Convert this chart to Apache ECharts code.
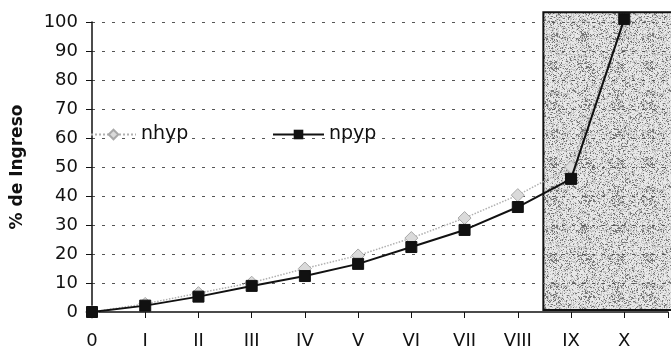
<!DOCTYPE html>
<html>
<head>
<meta charset="utf-8">
<script src="https://cdn.jsdelivr.net/npm/echarts@6/dist/echarts.min.js"></script>
<style>html,body{margin:0;padding:0;background:#fff}#c{width:671px;height:350px}</style>
</head>
<body>
<div id="c"></div>
<script>
// ---- data ----
const categories = ['0','I','II','III','IV','V','VI','VII','VIII','IX','X'];
const nhyp = [0, 2.8, 6.5, 10.1, 15, 19.5, 25.5, 32.4, 40.3, 50, 100.5];
const npyp = [0, 2.2, 5.3, 9.0, 12.4, 16.6, 22.4, 28.3, 36.2, 45.9, 101];
const yTicks = [0,10,20,30,40,50,60,70,80,90,100];
const shadeRange = {x0: 8.48, x1: 10.85, y0: 0, y1: 103.4};

const font = 'DejaVu Sans';
const chart = echarts.init(document.getElementById('c'), null, {renderer: 'canvas'});

function toPairs(arr){ return arr.map((v,i)=>[i, v]); }

// speckled texture for the shaded region (deterministic)
function makeTexture(){
  const s = 96, cv = document.createElement('canvas');
  cv.width = s; cv.height = s;
  const ctx = cv.getContext('2d');
  const img = ctx.createImageData(s, s);
  let h = 98765;
  for (let y=0; y<s; y++) for (let x=0; x<s; x++) {
    h = (h * 1103515245 + 12345) & 0x7fffffff;
    const r = (h >> 8) % 256;
    const dx = ((x + 8) % 32) - 16, dy = ((y + 6) % 29) - 14;
    const blob = (dx*dx/60 + dy*dy/30) < 1 ? 45 : 0;
    let g = r < 35 + blob ? 120 : (r < 110 + blob ? 195 : 232);
    const i = (y*s + x)*4;
    img.data[i]=g; img.data[i+1]=g; img.data[i+2]=g; img.data[i+3]=255;
  }
  ctx.putImageData(img,0,0);
  return cv;
}

const option = {
  animation: false,
  backgroundColor: '#fff',
  grid: {left: 92, right: 0, top: 22, bottom: 38, containLabel: false},
  legend: [
    {data: ['nhyp'], left: 90, top: 125, padding: 0, itemWidth: 45, itemHeight: 12, itemGap: 0,
     textStyle: {fontFamily: font, fontSize: 19, color: '#111'}},
    {data: ['npyp'], left: 272, top: 125, padding: 0, itemWidth: 51, itemHeight: 12, itemGap: 0,
     textStyle: {fontFamily: font, fontSize: 19, color: '#111'}}
  ],
  xAxis: {
    type: 'value', min: 0, max: 10.822, interval: 1,
    axisLine: {show: true, lineStyle: {color: '#111', width: 1.5}},
    axisTick: {show: true, length: 6, lineStyle: {color: '#111'}},
    axisLabel: {margin: 20, fontFamily: font, fontSize: 18, color: '#111',
      formatter: v => Number.isInteger(v) && v < categories.length ? categories[v] : ''},
    splitLine: {show: false}
  },
  yAxis: {
    type: 'value', min: 0, max: 100, interval: 10,
    name: '% de Ingreso', nameLocation: 'middle', nameRotate: 90, nameGap: 66,
    nameTextStyle: {fontFamily: font, fontSize: 17, fontWeight: 'bold', color: '#111'},
    axisLine: {show: true, lineStyle: {color: '#111', width: 1.5}},
    axisTick: {show: true, length: 6, lineStyle: {color: '#111'}},
    axisLabel: {margin: 14, fontFamily: font, fontSize: 18, color: '#111',
      formatter: v => yTicks.includes(v) ? String(v) : ''},
    splitLine: {show: true, showMinLine: false, lineStyle: {color: '#555', width: 1, type: [3, 7]}}
  },
  series: [
    {name: 'nhyp', type: 'line', data: toPairs(nhyp), symbol: 'diamond', symbolSize: 13, clip: false,
     itemStyle: {color: '#dadada', borderColor: '#a8a8a8', borderWidth: 1},
     lineStyle: {color: '#b0b0b0', width: 1.5, type: 'dotted'}, z: 3},
    {name: 'npyp', type: 'line', data: toPairs(npyp), symbol: 'rect', symbolSize: 11, clip: false,
     itemStyle: {color: '#111', borderColor: '#111'},
     lineStyle: {color: '#111', width: 2}, z: 4}
  ]
};
chart.setOption(option);

const p0 = chart.convertToPixel({gridIndex: 0}, [shadeRange.x0, shadeRange.y1]);
const p1 = chart.convertToPixel({gridIndex: 0}, [shadeRange.x1, shadeRange.y0]);
chart.setOption({
  graphic: [{
    type: 'rect', z: -10, silent: true,
    shape: {x: p0[0], y: p0[1], width: p1[0] - p0[0] + 4, height: p1[1] - p0[1] - 2},
    style: {fill: {image: makeTexture(), repeat: 'repeat'}, stroke: '#111', lineWidth: 2}
  }]
});
</script>
</body>
</html>
